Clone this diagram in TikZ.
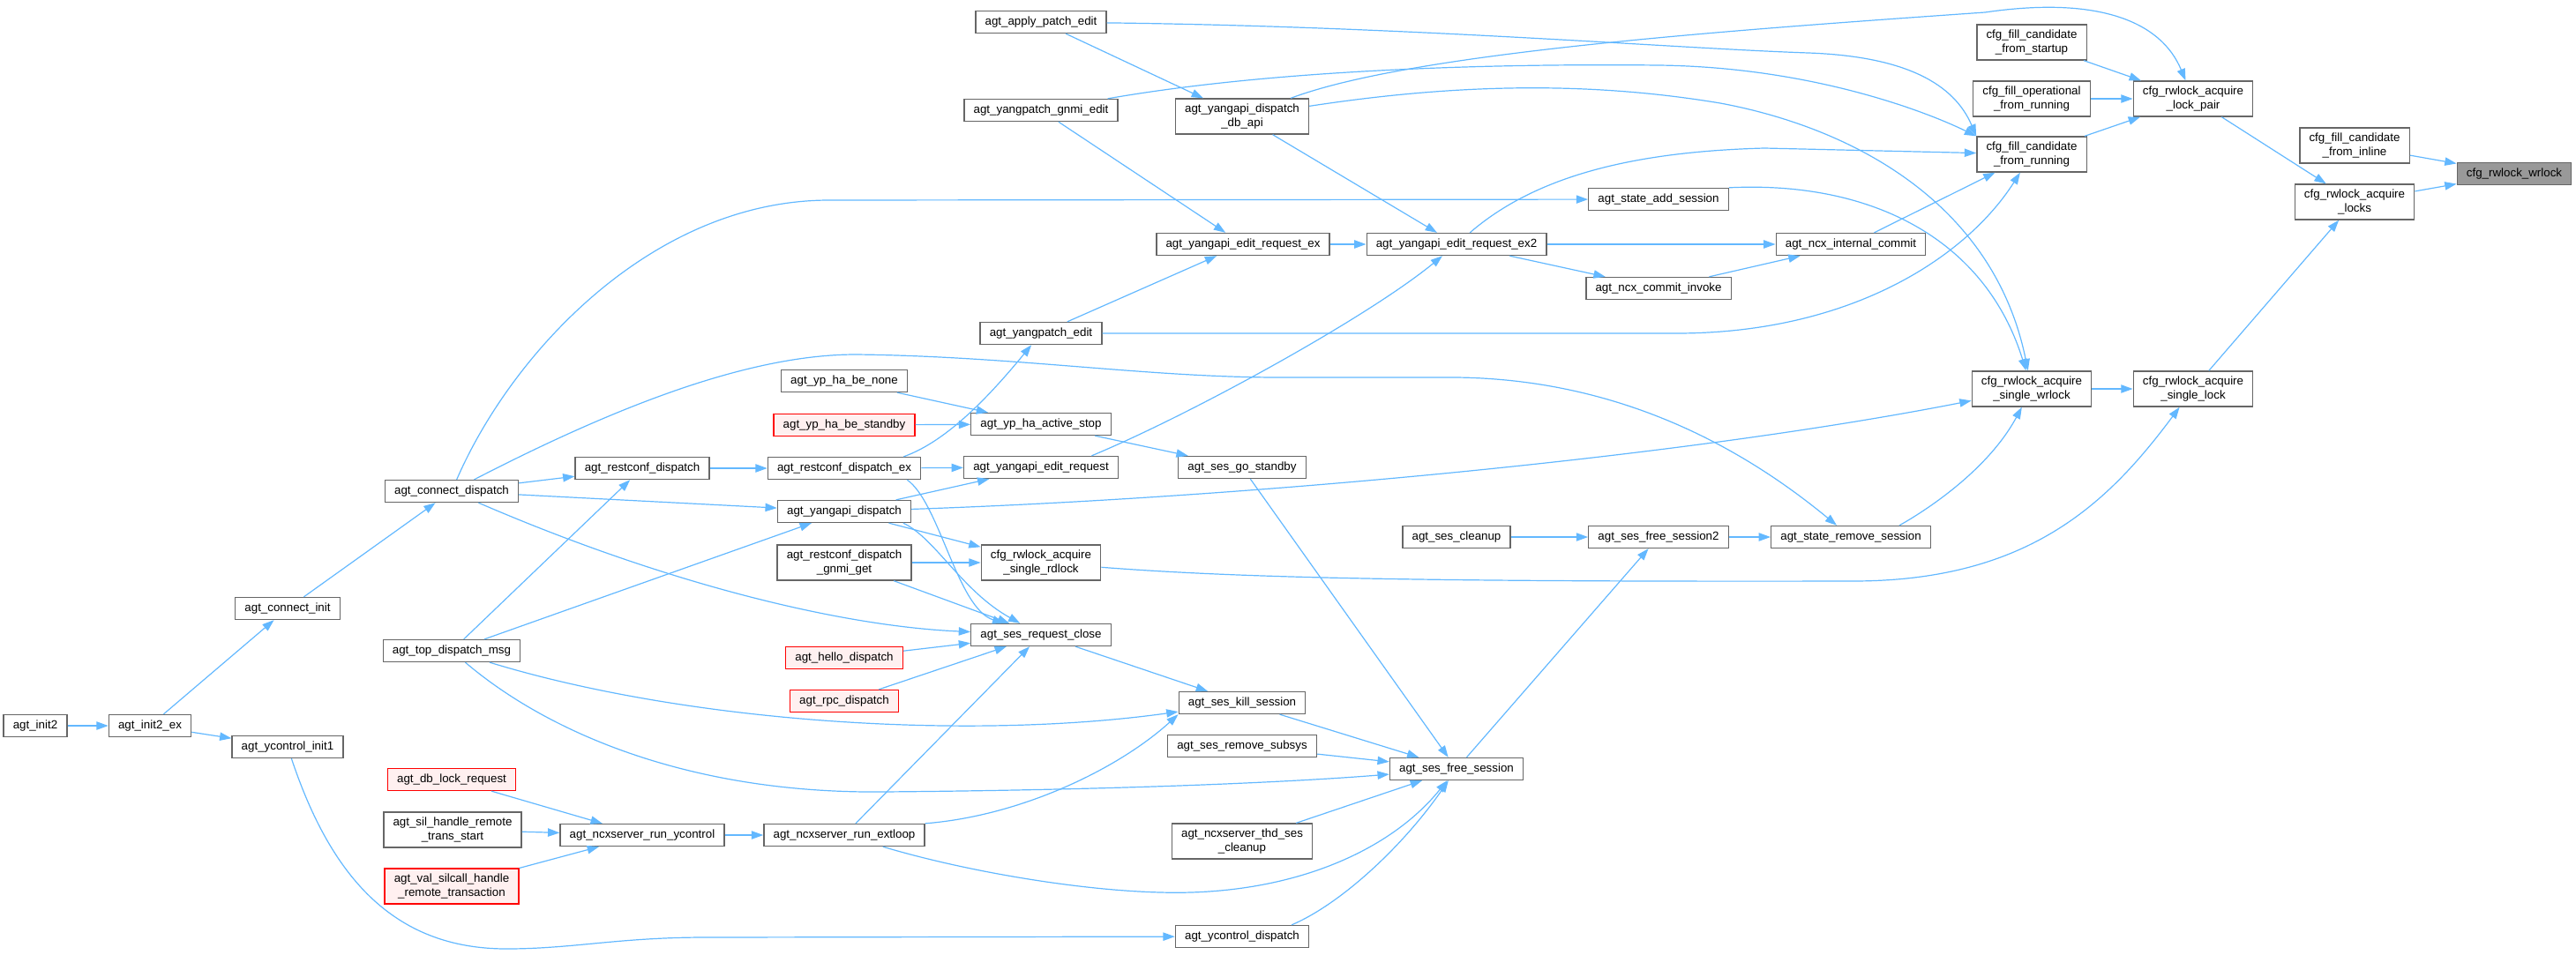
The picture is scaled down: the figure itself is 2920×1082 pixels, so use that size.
\documentclass[tikz,border=0pt]{standalone}
\usepackage{fontspec}
\setmainfont{Liberation Sans}
\usetikzlibrary{arrows.meta}
\definecolor{edgeblue}{HTML}{63B8FF}
\definecolor{boxgray}{HTML}{666666}
\definecolor{redline}{HTML}{FF0000}
\definecolor{redfill}{HTML}{FFF0F0}
\definecolor{rootfill}{HTML}{999999}
\begin{document}
\begin{tikzpicture}[x=0.75pt,y=-0.75pt,font=\fontsize{10}{11.5}\selectfont,
		fn/.style={draw=boxgray,fill=white,line width=1pt,inner xsep=8pt,inner ysep=2pt,minimum height=18.75pt,align=center},
		fn2/.style={fn,minimum height=30pt},
		redfn/.style={draw=redline,fill=redfill},
		rootfn/.style={fill=rootfill},
		callarrow/.style={draw=edgeblue,line width=0.9pt,-{Triangle[length=10pt,width=7pt]}}]
		\useasboundingbox (0,0) rectangle (2920,1082);
		
		\node[fn] (init2) at (40,823) {agt\_init2};
		\node[fn] (init2ex) at (170,823) {agt\_init2\_ex};
		\node[fn] (cinit) at (326,690) {agt\_connect\_init};
		\node[fn] (ycinit) at (326,847) {agt\_ycontrol\_init1};
		\node[fn] (cdisp) at (512,557) {agt\_connect\_dispatch};
		\node[fn] (topdisp) at (512,738) {agt\_top\_dispatch\_msg};
		\node[fn,redfn] (dblock) at (512,884) {agt\_db\_lock\_request};
		\node[fn2] (silhandle) at (513,941) {agt\_sil\_handle\_remote\\\_trans\_start};
		\node[fn2,redfn] (valsil) at (512,1005) {agt\_val\_silcall\_handle\\\_remote\_transaction};
		\node[fn] (rcdisp) at (728,531) {agt\_restconf\_dispatch};
		\node[fn] (runyc) at (728,947) {agt\_ncxserver\_run\_ycontrol};
		
		\node[fn] (hanone) at (957,432) {agt\_yp\_ha\_be\_none};
		\node[fn,redfn] (hastandby) at (957,482) {agt\_yp\_ha\_be\_standby};
		\node[fn] (rcdispex) at (957,531) {agt\_restconf\_dispatch\_ex};
		\node[fn] (yadisp) at (957,580) {agt\_yangapi\_dispatch};
		\node[fn2] (gnmiget) at (957,638) {agt\_restconf\_dispatch\\\_gnmi\_get};
		\node[fn,redfn] (hello) at (957,746) {agt\_hello\_dispatch};
		\node[fn,redfn] (rpc) at (957,795) {agt\_rpc\_dispatch};
		\node[fn] (extloop) at (957,947) {agt\_ncxserver\_run\_extloop};
		
		\node[fn] (applyp) at (1180,25) {agt\_apply\_patch\_edit};
		\node[fn] (gnmiedit) at (1180,125) {agt\_yangpatch\_gnmi\_edit};
		\node[fn] (ypedit) at (1180,378) {agt\_yangpatch\_edit};
		\node[fn] (hastop) at (1180,481) {agt\_yp\_ha\_active\_stop};
		\node[fn] (editreq) at (1180,530) {agt\_yangapi\_edit\_request};
		\node[fn2] (rdlock) at (1180,638) {cfg\_rwlock\_acquire\\\_single\_rdlock};
		\node[fn] (reqclose) at (1180,720) {agt\_ses\_request\_close};
		
		\node[fn2] (dbapi) at (1408,132) {agt\_yangapi\_dispatch\\\_db\_api};
		\node[fn] (editreqex) at (1409,277) {agt\_yangapi\_edit\_request\_ex};
		\node[fn] (gostandby) at (1408,530) {agt\_ses\_go\_standby};
		\node[fn] (killses) at (1408,797) {agt\_ses\_kill\_session};
		\node[fn] (rmsubsys) at (1408,846) {agt\_ses\_remove\_subsys};
		\node[fn2] (thdclean) at (1408,954) {agt\_ncxserver\_thd\_ses\\\_cleanup};
		\node[fn] (ycdisp) at (1408,1062) {agt\_ycontrol\_dispatch};
		
		\node[fn] (editreqex2) at (1651,277) {agt\_yangapi\_edit\_request\_ex2};
		\node[fn] (sesclean) at (1651,609) {agt\_ses\_cleanup};
		\node[fn] (freeses) at (1651,872) {agt\_ses\_free\_session};
		\node[fn] (addses) at (1880,226) {agt\_state\_add\_session};
		\node[fn] (cinvoke) at (1880,327) {agt\_ncx\_commit\_invoke};
		\node[fn] (freeses2) at (1880,609) {agt\_ses\_free\_session2};
		\node[fn] (icommit) at (2098,277) {agt\_ncx\_internal\_commit};
		\node[fn] (rmses) at (2098,609) {agt\_state\_remove\_session};
		
		\node[fn2] (fstartup) at (2303,48) {cfg\_fill\_candidate\\\_from\_startup};
		\node[fn2] (foper) at (2303,112) {cfg\_fill\_operational\\\_from\_running};
		\node[fn2] (frunning) at (2303,175) {cfg\_fill\_candidate\\\_from\_running};
		\node[fn2] (swrlock) at (2303,441) {cfg\_rwlock\_acquire\\\_single\_wrlock};
		\node[fn2] (lockpair) at (2486,112) {cfg\_rwlock\_acquire\\\_lock\_pair};
		\node[fn2] (slock) at (2486,441) {cfg\_rwlock\_acquire\\\_single\_lock};
		\node[fn2] (finline) at (2669,165) {cfg\_fill\_candidate\\\_from\_inline};
		\node[fn2] (locks) at (2669,229) {cfg\_rwlock\_acquire\\\_locks};
		\node[fn,rootfn] (wrlock) at (2850,197) {cfg\_rwlock\_wrlock};
		
		\foreach \a/\b in {init2/init2ex,init2ex/cinit,init2ex/ycinit,cinit/cdisp,cdisp/rcdisp,cdisp/yadisp,
			topdisp/rcdisp,topdisp/yadisp,dblock/runyc,silhandle/runyc,valsil/runyc,runyc/extloop,
			rcdisp/rcdispex,rcdispex/editreq,yadisp/editreq,yadisp/rdlock,gnmiget/rdlock,gnmiget/reqclose,
			hello/reqclose,rpc/reqclose,extloop/reqclose,hanone/hastop,hastandby/hastop,hastop/gostandby,
			gostandby/freeses,reqclose/killses,killses/freeses,rmsubsys/freeses,thdclean/freeses,
			applyp/dbapi,gnmiedit/editreqex,ypedit/editreqex,editreqex/editreqex2,dbapi/editreqex2,
			editreqex2/icommit,editreqex2/cinvoke,cinvoke/icommit,icommit/frunning,sesclean/freeses2,
			freeses/freeses2,freeses2/rmses,fstartup/lockpair,foper/lockpair,frunning/lockpair,
			lockpair/locks,slock/locks,swrlock/slock,finline/wrlock,locks/wrlock}
		\draw[callarrow] (\a) -- (\b);
		
		\draw[callarrow] (ycinit) .. controls (374,991) and (444,1076) .. (574,1076) .. controls (650,1076) and (700,1063) .. (800,1063) -- (ycdisp);
		\draw[callarrow] (cdisp) .. controls (750,660) and (950,710) .. (reqclose);
		\draw[callarrow] (cdisp) .. controls (580,400) and (740,227) .. (940,227) -- (addses);
		\draw[callarrow] (cdisp) .. controls (700,460) and (850,402) .. (970,402) .. controls (1150,404) and (1300,428) .. (1450,428) -- (1650,428) .. controls (1850,430) and (1990,520) .. (rmses);
		\draw[callarrow] (topdisp) .. controls (780,820) and (1100,840) .. (killses);
		\draw[callarrow] (topdisp) .. controls (620,830) and (780,900) .. (1000,898) .. controls (1250,896) and (1450,888) .. (freeses);
		\draw[callarrow] ([xshift=-15pt]rcdispex.north east) .. controls (1075,500) and (1125,445) .. (ypedit);
		\draw[callarrow] ([xshift=-12pt]rcdispex.south east) .. controls (1065,570) and (1085,690) .. (reqclose);
		\draw[callarrow] ([xshift=-7pt]yadisp.south east) .. controls (1060,610) and (1090,670) .. (reqclose);
		\draw[callarrow] (yadisp) .. controls (1400,565) and (1900,520) .. (swrlock);
		\draw[callarrow] (rdlock) .. controls (1400,655) and (1600,660) .. (2100,659) .. controls (2300,659) and (2390,570) .. (slock);
		\draw[callarrow] (extloop) .. controls (1100,990) and (1250,1015) .. (1350,1012) .. controls (1480,1008) and (1580,960) .. (freeses);
		\draw[callarrow] (extloop.north east) .. controls (1160,925) and (1270,870) .. (killses.south west);
		\draw[callarrow] ([xshift=-15pt]ycdisp.north east) .. controls (1520,1025) and (1590,960) .. (freeses);
		\draw[callarrow] ([xshift=-23pt]editreq.north east) .. controls (1350,470) and (1550,360) .. (editreqex2);
		\draw[callarrow] (ypedit) -- (1900,378) .. controls (2100,378) and (2230,290) .. (frunning);
		\draw[callarrow] (gnmiedit) .. controls (1450,78) and (1700,72) .. (1880,74) .. controls (2050,76) and (2180,125) .. (frunning.north west);
		\draw[callarrow] (applyp) .. controls (1600,30) and (1900,55) .. (2050,60) .. controls (2160,64) and (2215,95) .. (frunning.north west);
		\draw[callarrow] (dbapi) .. controls (1600,60) and (1950,35) .. (2250,14) .. controls (2380,-5) and (2450,25) .. (lockpair);
		\draw[callarrow] (dbapi) .. controls (1650,95) and (1800,92) .. (1950,117) .. controls (2100,145) and (2260,230) .. (swrlock);
		\draw[callarrow] (addses.north east) .. controls (2120,205) and (2250,270) .. (swrlock);
		\draw[callarrow] (editreqex2) .. controls (1740,200) and (1850,172) .. (2000,168) -- (frunning);
		\draw[callarrow] ([xshift=-27pt]rmses.north east) .. controls (2190,575) and (2255,530) .. (swrlock);
	\end{tikzpicture}
\end{document}
